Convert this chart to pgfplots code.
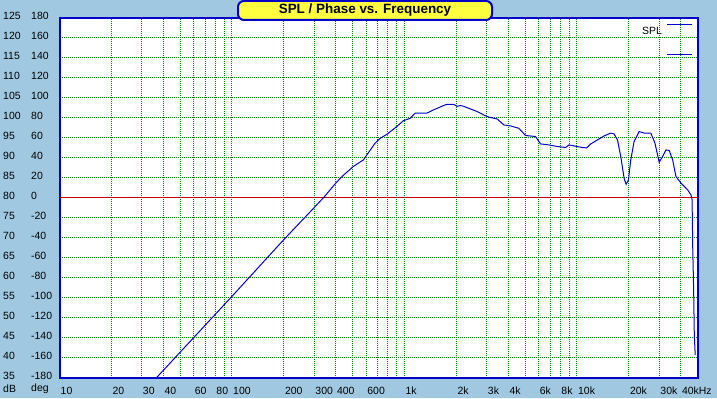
\documentclass[border=0pt]{standalone}
\usepackage{fontspec}
\setmainfont{Liberation Sans}
\usepackage{pgfplots}
\pgfplotsset{compat=1.18}
\definecolor{bgblue}{RGB}{160,200,224}
\definecolor{frameblue}{RGB}{0,0,200}
\definecolor{curveblue}{RGB}{0,0,200}
\definecolor{gridgreen}{RGB}{0,128,0}
\definecolor{zerored}{RGB}{200,0,0}
\definecolor{titleyellow}{RGB}{255,255,64}
\newcommand\lab[2]{\makebox[28bp][l]{#1}\makebox[28bp][l]{#2}}
\newcommand\tfont{\fontsize{10.5}{12}\selectfont}
\begin{document}
\begin{tikzpicture}[x=1bp,y=1bp]
\fill[bgblue] (0,0) rectangle (717,398);
\useasboundingbox (0,0) rectangle (717,398);
\begin{axis}[
  at={(59.5bp,20.5bp)}, anchor=south west,
  scale only axis, width=638bp, height=360bp,
  xmode=log, xmin=10, xmax=50000, ymin=35, ymax=125,
  axis background/.style={fill=white},
  axis line style={draw=frameblue, line width=2bp},
  major tick length=0pt, minor tick length=0pt,
  xtick={10,20,30,40,50,60,70,80,90,100,200,300,400,500,600,700,800,900,1000,2000,3000,4000,5000,6000,7000,8000,9000,10000,20000,30000,40000},
  xticklabels={10,20,30,40,{},60,{},80,{},100,200,300,400,{},600,{},{},{},1k,2k,3k,4k,{},6k,{},8k,{},10k,20k,30k,40kHz},
  minor xtick={},
  ytick={35,40,...,125},
  yticklabels={\lab{35}{-180},\lab{40}{-160},\lab{45}{-140},\lab{50}{-120},\lab{55}{-100},\lab{60}{-80},\lab{65}{-60},\lab{70}{-40},\lab{75}{-20},\lab{80}{0},\lab{85}{20},\lab{90}{40},\lab{95}{60},\lab{100}{80},\lab{105}{100},\lab{110}{120},\lab{115}{140},\lab{120}{160},\lab{125}{180}},
  xticklabel style={font=\tfont, anchor=north west, inner sep=0pt, yshift=-9bp, xshift=1bp},
  yticklabel style={font=\tfont, anchor=west, inner sep=0pt, xshift=-56.5bp, yshift=2bp},
  xmajorgrids, ymajorgrids,
  grid style={color=gridgreen, line width=1bp, dash pattern=on 1bp off 1bp},
  major grid style={color=gridgreen, draw=gridgreen, line width=1bp, dash pattern=on 1bp off 1bp},
]
\draw[color=zerored, line width=1bp] (axis cs:10,80) -- (axis cs:50000,80);
\addplot[curveblue, line width=1bp] coordinates {
(36.6,35) (100,55.3) (200,69.5) (300,77.5) (343,80.2) (400,83.6) (433,85.2)
(505,87.75) (578,89.4) (604,90.6) (676,93.6) (723,94.8) (797,95.9) (903,97.75)
(986,99.2) (1079,99.8) (1153,101.1) (1349,101.1) (1474,101.9) (1687,103)
(1765,103.3) (1929,103.3) (2018,102.8) (2110,103) (2200,102.8) (2410,102.15)
(2636,101.5) (2878,100.65) (3079,100.1) (3444,99.65) (3766,98.15) (4119,97.9)
(4605,97.3) (5035,95.5) (5754,95.25) (6151,93.4) (6874,93.15) (7691,92.75)
(8593,92.5) (8981,93.15) (9613,92.9) (10740,92.5) (11400,92.4) (12020,93.4)
(13150,94.4) (14370,95.4) (15710,96.1) (16400,95.9) (17180,94.4) (17950,90.25)
(18770,84.8) (19280,83.3) (19890,84.4) (20510,89.4) (21440,94.0) (22920,96.5)
(24530,96.1) (26800,96.1) (28320,93.6) (29980,88.8) (31380,90.25) (32800,91.9)
(34280,91.75) (35880,89.4) (37500,85.25) (40090,83.6) (43850,81.9) (45830,80.65)
(46500,79.5) (46900,67.6) (47500,56.6) (47900,45.6) (48500,40.6)
};
\end{axis}
\node[font=\tfont, anchor=west, inner sep=0pt] at (3,9) {dB};
\node[font=\tfont, anchor=west, inner sep=0pt] at (31,9) {deg};
\draw[fill=titleyellow, draw=frameblue, line width=2bp, rounded corners=6bp] (238,378) rectangle (492,397);
\node[font=\bfseries\fontsize{13.5}{15}\selectfont, inner sep=0pt] at (365,387.5) {SPL / Phase vs. Frequency};
\node[font=\tfont, anchor=west, inner sep=0pt] at (642,366.7) {SPL};
\draw[curveblue, line width=1bp] (667,373.5) -- (692,373.5);
\draw[curveblue, line width=1bp] (667,343.5) -- (692,343.5);
\end{tikzpicture}
\end{document}
